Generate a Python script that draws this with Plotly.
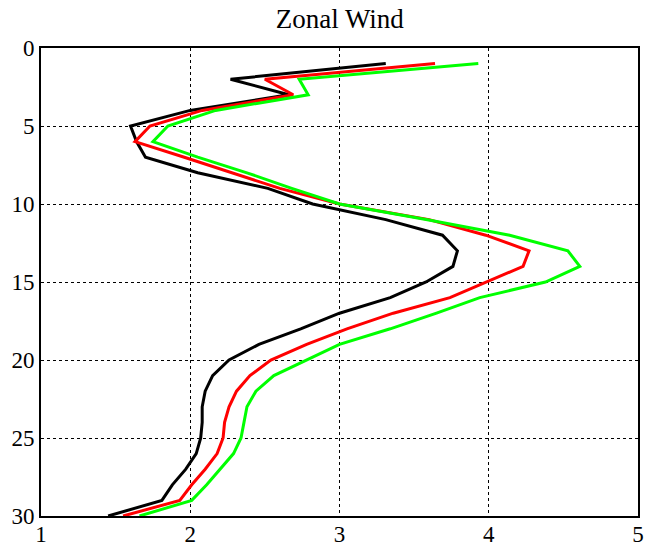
import plotly.graph_objects as go

height = list(range(1, 31))
black = [3.31, 2.27, 2.66, 2.00, 1.60, 1.64, 1.70, 2.05, 2.52, 2.82,
         3.31, 3.69, 3.79, 3.76, 3.58, 3.34, 3.00, 2.74, 2.46, 2.26,
         2.15, 2.10, 2.08, 2.08, 2.07, 2.04, 1.97, 1.88, 1.81, 1.45]
red = [3.64, 2.50, 2.69, 2.08, 1.73, 1.63, 1.96, 2.28, 2.60, 3.00,
       3.60, 3.98, 4.27, 4.23, 3.98, 3.74, 3.36, 3.05, 2.78, 2.54,
       2.40, 2.31, 2.26, 2.23, 2.22, 2.18, 2.10, 2.01, 1.93, 1.55]
green = [3.93, 2.73, 2.79, 2.17, 1.85, 1.75, 2.05, 2.38, 2.68, 3.00,
         3.58, 4.14, 4.53, 4.61, 4.38, 3.94, 3.65, 3.34, 3.00, 2.78,
         2.56, 2.44, 2.38, 2.36, 2.34, 2.29, 2.20, 2.11, 2.01, 1.66]
x_ticks = [1, 2, 3, 4, 5]
y_ticks = [0, 5, 10, 15, 20, 25, 30]

fig = go.Figure()
for vals, col in [(black, "#000000"), (red, "#ff0000"), (green, "#00ff00")]:
    fig.add_trace(go.Scatter(x=vals, y=height, mode="lines",
                             line=dict(color=col, width=3), showlegend=False))

axis_common = dict(showline=True, linecolor="black", linewidth=2, mirror=True,
                   showgrid=True, gridcolor="black", griddash="dot", gridwidth=1,
                   zeroline=False, ticks="", automargin=False,
                   tickfont=dict(family="Liberation Serif", size=23, color="black"))
fig.update_xaxes(range=[1, 5], tickvals=x_ticks, ticklabelstandoff=-4, **axis_common)
fig.update_yaxes(range=[30, 0], tickvals=y_ticks, **axis_common)
fig.update_layout(
    width=646, height=547,
    margin=dict(l=41, r=8, t=48, b=31),
    plot_bgcolor="white", paper_bgcolor="white",
    title=dict(text="Zonal Wind", x=0.526, xanchor="center", y=0.967, yanchor="middle",
               font=dict(family="Liberation Serif", size=27, color="black")),
)
fig.write_html("out.html")
